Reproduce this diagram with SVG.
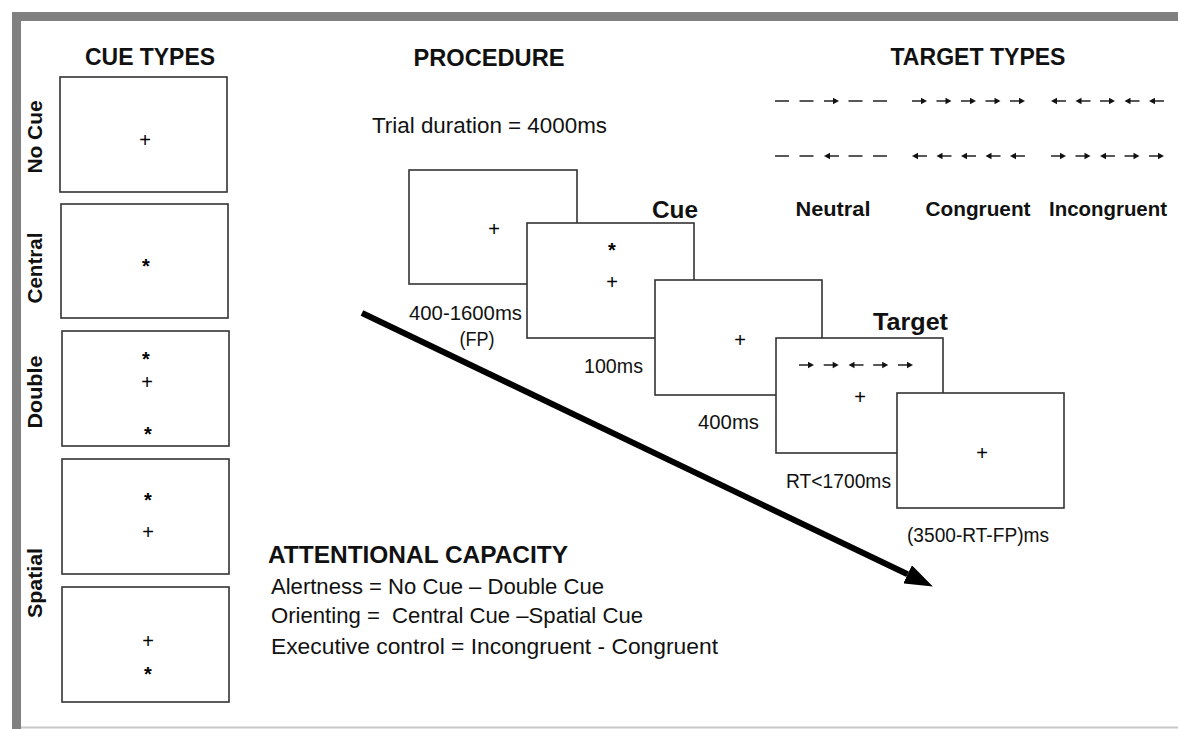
<svg xmlns="http://www.w3.org/2000/svg" width="1178" height="729" viewBox="0 0 1178 729">
<style>
  text { font-family: "Liberation Sans", Arial, sans-serif; fill: #111; }
  .title { font-size: 24px; font-weight: bold; }
  .side { font-size: 21px; font-weight: bold; }
  .lbl { font-size: 19.5px; }
  .body { font-size: 22px; }
  .tt { font-size: 21px; font-weight: bold; }
  .sym { font-size: 20px; text-anchor: middle; fill: #000; }
  .ast { font-weight: bold; }
  .box { fill: #fff; stroke: #333; stroke-width: 1.6; }
  .sh { stroke: #111; stroke-width: 1.4; fill: none; }
</style>
<defs>
  <g id="ra"><path class="sh" d="M0,0 H10"/><path d="M15,0 L9,-3.2 L9,3.2 Z" fill="#111"/></g>
  <g id="la"><path class="sh" d="M5,0 H15"/><path d="M0,0 L6,-3.2 L6,3.2 Z" fill="#111"/></g>
  <g id="dash"><path class="sh" d="M0,0 H14"/></g>
  <marker id="bigHead" markerUnits="userSpaceOnUse" markerWidth="28" markerHeight="20" viewBox="0 0 28 20" refX="0" refY="10" orient="auto">
    <path d="M0,0 L28,10 L0,20 Z" fill="#000"/>
  </marker>
</defs>
<rect width="1178" height="729" fill="#fff"/>
<g id="frame">
  <rect x="12" y="12" width="1166" height="9" fill="#808080"/>
  <rect x="12" y="12" width="9" height="717" fill="#808080"/>
  <line x1="21" y1="727.5" x2="1178" y2="727.5" stroke="#c8c8c8" stroke-width="2"/>
</g>
<g id="cue-types">
  <text class="title" x="150" y="65" text-anchor="middle" textLength="130" lengthAdjust="spacingAndGlyphs">CUE TYPES</text>
  <g id="cue-none">
    <rect class="box" x="60" y="77" width="167" height="115"/>
    <text class="sym" x="145" y="147">+</text>
    <text class="side" transform="translate(42,137) rotate(-90)" text-anchor="middle" textLength="73" lengthAdjust="spacingAndGlyphs">No Cue</text>
  </g>
  <g id="cue-central">
    <rect class="box" x="61" y="204" width="167" height="114"/>
    <text class="sym ast" x="146" y="273">*</text>
    <text class="side" transform="translate(42,268) rotate(-90)" text-anchor="middle" textLength="71" lengthAdjust="spacingAndGlyphs">Central</text>
  </g>
  <g id="cue-double">
    <rect class="box" x="62" y="331" width="167" height="115"/>
    <text class="sym ast" x="146" y="366">*</text>
    <text class="sym" x="147" y="389">+</text>
    <text class="sym ast" x="148" y="441">*</text>
    <text class="side" transform="translate(42,392) rotate(-90)" text-anchor="middle" textLength="73" lengthAdjust="spacingAndGlyphs">Double</text>
  </g>
  <g id="cue-spatial-up">
    <rect class="box" x="62" y="459" width="167" height="115"/>
    <text class="sym ast" x="148" y="507">*</text>
    <text class="sym" x="148" y="539">+</text>
  </g>
  <g id="cue-spatial-down">
    <rect class="box" x="62" y="587" width="167" height="115"/>
    <text class="sym" x="148" y="648">+</text>
    <text class="sym ast" x="148" y="681">*</text>
  </g>
  <text class="side" transform="translate(42,583) rotate(-90)" text-anchor="middle" textLength="70" lengthAdjust="spacingAndGlyphs">Spatial</text>
</g>
<g id="procedure">
  <text class="title" x="489" y="66" text-anchor="middle" textLength="151" lengthAdjust="spacingAndGlyphs">PROCEDURE</text>
  <text class="body" x="372" y="133" textLength="235" lengthAdjust="spacingAndGlyphs">Trial duration = 4000ms</text>
  <g id="step-fixation">
    <rect class="box" x="409" y="170" width="168" height="114"/>
    <text class="sym" x="494" y="236">+</text>
    <text class="lbl" x="409" y="320" textLength="113" lengthAdjust="spacingAndGlyphs">400-1600ms</text>
    <text class="lbl" x="477" y="346" text-anchor="middle" textLength="35" lengthAdjust="spacingAndGlyphs">(FP)</text>
  </g>
  <g id="step-cue">
    <rect class="box" x="527" y="223" width="167" height="115"/>
    <text class="sym ast" x="612" y="257">*</text>
    <text class="sym" x="612" y="289">+</text>
    <text class="title" x="652" y="218" textLength="46" lengthAdjust="spacingAndGlyphs">Cue</text>
    <text class="lbl" x="584" y="373" textLength="59" lengthAdjust="spacingAndGlyphs">100ms</text>
  </g>
  <g id="step-fixation2">
    <rect class="box" x="655" y="280" width="167" height="115"/>
    <text class="sym" x="740" y="347">+</text>
    <text class="lbl" x="698" y="429" textLength="61" lengthAdjust="spacingAndGlyphs">400ms</text>
  </g>
  <g id="step-target">
    <rect class="box" x="776" y="338" width="167" height="115"/>
    <use href="#ra" x="799" y="365"/>
    <use href="#ra" x="823.7" y="365"/>
    <use href="#la" x="848.5" y="365"/>
    <use href="#ra" x="873.2" y="365"/>
    <use href="#ra" x="898" y="365"/>
    <text class="sym" x="860" y="404">+</text>
    <text class="title" x="873" y="330" textLength="75" lengthAdjust="spacingAndGlyphs">Target</text>
    <text class="lbl" x="786" y="488" textLength="105" lengthAdjust="spacingAndGlyphs">RT&lt;1700ms</text>
  </g>
  <g id="step-post">
    <rect class="box" x="897" y="393" width="167" height="115"/>
    <text class="sym" x="982" y="460">+</text>
    <text class="lbl" x="907" y="542" textLength="142" lengthAdjust="spacingAndGlyphs">(3500-RT-FP)ms</text>
  </g>
</g>
<g id="connectors">
  <line x1="362" y1="313" x2="907.6" y2="574.3" stroke="#000" stroke-width="6" marker-end="url(#bigHead)"/>
</g>
<g id="target-types">
  <text class="title" x="978" y="65" text-anchor="middle" textLength="175" lengthAdjust="spacingAndGlyphs">TARGET TYPES</text>
  <g id="neutral">
    <use href="#dash" x="775" y="101"/>
    <use href="#dash" x="799.5" y="101"/>
    <use href="#ra" x="824" y="101"/>
    <use href="#dash" x="848.5" y="101"/>
    <use href="#dash" x="873" y="101"/>
    <use href="#dash" x="775" y="156"/>
    <use href="#dash" x="799.5" y="156"/>
    <use href="#la" x="824" y="156"/>
    <use href="#dash" x="848.5" y="156"/>
    <use href="#dash" x="873" y="156"/>
    <text class="tt" x="833" y="216" text-anchor="middle" textLength="75" lengthAdjust="spacingAndGlyphs">Neutral</text>
  </g>
  <g id="congruent">
    <use href="#ra" x="912" y="101"/>
    <use href="#ra" x="936.5" y="101"/>
    <use href="#ra" x="961" y="101"/>
    <use href="#ra" x="985.5" y="101"/>
    <use href="#ra" x="1010" y="101"/>
    <use href="#la" x="912" y="156"/>
    <use href="#la" x="936.5" y="156"/>
    <use href="#la" x="961" y="156"/>
    <use href="#la" x="985.5" y="156"/>
    <use href="#la" x="1010" y="156"/>
    <text class="tt" x="978" y="216" text-anchor="middle" textLength="105" lengthAdjust="spacingAndGlyphs">Congruent</text>
  </g>
  <g id="incongruent">
    <use href="#la" x="1051" y="101"/>
    <use href="#la" x="1075.5" y="101"/>
    <use href="#ra" x="1100" y="101"/>
    <use href="#la" x="1124.5" y="101"/>
    <use href="#la" x="1149" y="101"/>
    <use href="#ra" x="1051" y="156"/>
    <use href="#ra" x="1075.5" y="156"/>
    <use href="#la" x="1100" y="156"/>
    <use href="#ra" x="1124.5" y="156"/>
    <use href="#ra" x="1149" y="156"/>
    <text class="tt" x="1108" y="216" text-anchor="middle" textLength="118" lengthAdjust="spacingAndGlyphs">Incongruent</text>
  </g>
</g>
<g id="attentional-capacity">
  <text class="title" x="268" y="563" textLength="300" lengthAdjust="spacingAndGlyphs">ATTENTIONAL CAPACITY</text>
  <text class="body" x="271" y="594" textLength="333" lengthAdjust="spacingAndGlyphs">Alertness = No Cue – Double Cue</text>
  <text class="body" x="271" y="623" textLength="372" lengthAdjust="spacingAndGlyphs" xml:space="preserve">Orienting =  Central Cue –Spatial Cue</text>
  <text class="body" x="271" y="654" textLength="447" lengthAdjust="spacingAndGlyphs">Executive control = Incongruent - Congruent</text>
</g>
</svg>
